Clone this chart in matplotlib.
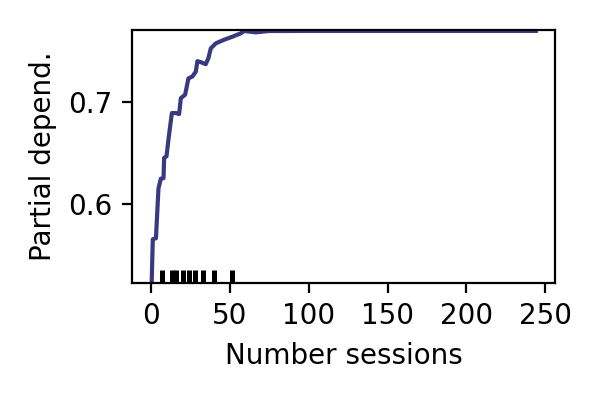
import matplotlib
matplotlib.use('Agg')
import matplotlib.pyplot as plt

# partial dependence curve
sessions = [0, 1, 3, 4.6, 6.1, 7.8, 8.2, 9.7, 11, 13.1, 15.6, 17.7, 18.8, 21.5,
            23.6, 26.1, 28.3, 29.3, 31.4, 34.6, 36.3, 37.8, 41, 46.2, 51.5,
            56.8, 58.9, 66.3, 74.7, 100, 150, 200, 244]
pdp = [0.505, 0.565, 0.566, 0.615, 0.6245, 0.625, 0.645, 0.6465, 0.664, 0.689,
       0.689, 0.688, 0.7036, 0.707, 0.723, 0.7249, 0.7297, 0.740, 0.739, 0.737,
       0.743, 0.7526, 0.7575, 0.761, 0.764, 0.7673, 0.7696, 0.7683, 0.7696,
       0.7697, 0.7697, 0.7697, 0.7697]

# deciles of the feature
deciles = [7, 13, 16, 20, 24, 28, 33, 40, 51]

fig = plt.figure(figsize=(3, 2), dpi=200)
ax = fig.add_axes([0.22, 0.2925, 0.705, 0.6325])

ax.plot(sessions, pdp, color='#393980', lw=1.5)
ax.set_ylim(0.522, 0.7706)
trans = ax.get_xaxis_transform()
ax.vlines(deciles, 0, 0.05, transform=trans, color='k', lw=1.8)

ax.set_xticks([0, 50, 100, 150, 200, 250])
ax.set_yticks([0.6, 0.7])
ax.tick_params(labelsize=10)
ax.set_xlabel('Number sessions', fontsize=10)
ax.set_ylabel('Partial depend.', fontsize=10)

plt.savefig('out.png', dpi=200)
